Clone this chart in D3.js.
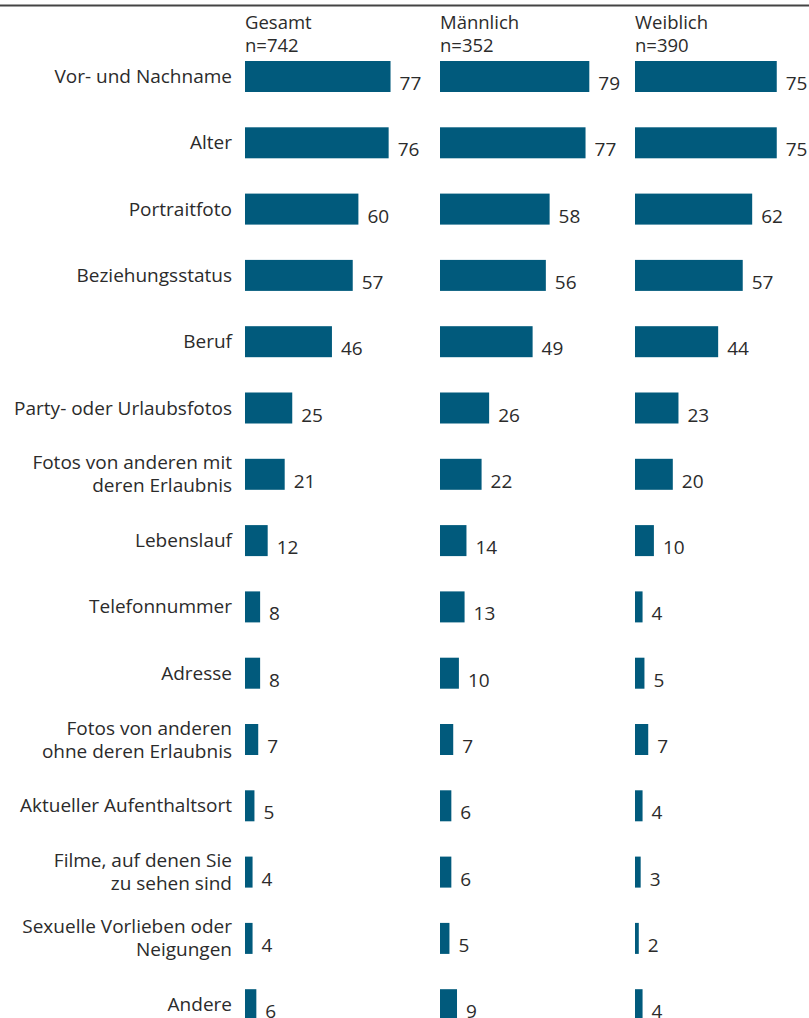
<!DOCTYPE html>
<meta charset="utf-8">
<style>
body { margin: 0; background: #fff; }
text { font-family: "Open Sans", sans-serif; fill: #2b2b2b; }
.cat { font-size: 19px; }
.head { font-size: 18.5px; }
.val { font-size: 19px; }
.bar { fill: #015a7c; }
</style>
<svg width="809" height="1018"></svg>
<script src="https://cdn.jsdelivr.net/npm/d3@7"></script>
<script>

var categories = [
  "Vor- und Nachname",
  "Alter",
  "Portraitfoto",
  "Beziehungsstatus",
  "Beruf",
  "Party- oder Urlaubsfotos",
  "Fotos von anderen mit|deren Erlaubnis",
  "Lebenslauf",
  "Telefonnummer",
  "Adresse",
  "Fotos von anderen|ohne deren Erlaubnis",
  "Aktueller Aufenthaltsort",
  "Filme, auf denen Sie|zu sehen sind",
  "Sexuelle Vorlieben oder|Neigungen",
  "Andere"
];

var groups = ["Gesamt", "Männlich", "Weiblich"];
var groupN = ["n=742", "n=352", "n=390"];

var gesamt    = [77, 76, 60, 57, 46, 25, 21, 12, 8, 8, 7, 5, 4, 4, 6];
var maennlich = [79, 77, 58, 56, 49, 26, 22, 14, 13, 10, 7, 6, 6, 5, 9];
var weiblich  = [75, 75, 62, 57, 44, 23, 20, 10, 4, 5, 7, 4, 3, 2, 4];

var series = [gesamt, maennlich, weiblich];

var svg = d3.select("svg"),
    width = +svg.attr("width"),
    height = +svg.attr("height");

var step = 66.3, barH = 31, y0 = 61;

var y = d3.scaleBand()
    .domain(categories)
    .range([y0, y0 + step * (categories.length - 1) + barH])
    .paddingInner(1 - barH / step)
    .paddingOuter(0);

var col = d3.scalePoint()
    .domain(groups)
    .range([245, 635]);

var x = d3.scaleLinear()
    .domain([0, 100])
    .range([0, 189]);

// top rule
svg.append("line")
    .attr("x1", 0).attr("x2", width)
    .attr("y1", 5.5).attr("y2", 5.5)
    .attr("stroke", "#444")
    .attr("stroke-width", 2);

// category labels (right aligned, may wrap)
var cat = svg.append("g").selectAll("text")
    .data(categories)
    .enter().append("text")
    .attr("class", "cat")
    .attr("text-anchor", "end");

cat.each(function(d) {
  var lines = d.split("|"),
      mid = y(d) + y.bandwidth() / 2,
      n = lines.length;
  d3.select(this).selectAll("tspan")
    .data(lines)
    .enter().append("tspan")
    .attr("x", 232)
    .attr("y", function(l, i) { return mid + 6.5 + (i - (n - 1) / 2) * 23; })
    .text(function(l) { return l; });
});

// one column per group
groups.forEach(function(g, gi) {
  var g0 = svg.append("g").attr("transform", "translate(" + col(g) + ",0)");

  g0.append("text").attr("class", "head").attr("x", 0).attr("y", 29).text(g);
  g0.append("text").attr("class", "head").attr("x", 0).attr("y", 51.5).text(groupN[gi]);

  var vals = series[gi];

  g0.selectAll("rect")
    .data(categories)
    .enter().append("rect")
    .attr("class", "bar")
    .attr("x", 0)
    .attr("y", function(d) { return y(d); })
    .attr("width", function(d, i) { return x(vals[i]); })
    .attr("height", y.bandwidth());

  g0.selectAll("text.val")
    .data(categories)
    .enter().append("text")
    .attr("class", "val")
    .attr("x", function(d, i) { return x(vals[i]) + 9; })
    .attr("y", function(d) { return y(d) + y.bandwidth() - 2; })
    .text(function(d, i) { return vals[i]; });
});

</script>
